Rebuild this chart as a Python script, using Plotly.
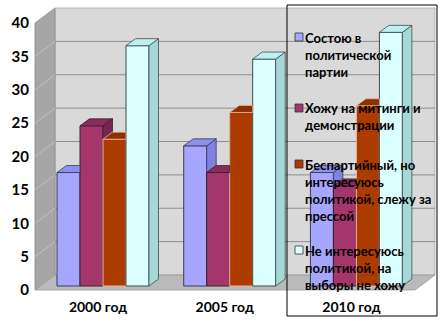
import plotly.graph_objects as go

# ---------------- data ----------------
years = ["2000 год", "2005 год", "2010 год"]
series_names = [
    "Состою в политической партии",
    "Хожу на митинги и демонстрации",
    "Беспартийный, но интересуюсь политикой, слежу за прессой",
    "Не интересуюсь политикой, на выборы не хожу",
]
legend_texts = [
    "Состою в<br>политической<br>партии",
    "Хожу на митинги и<br>демонстрации",
    "Беспартийный, но<br>интересуюсь<br>политикой, слежу за<br>прессой",
    "Не интересуюсь<br>политикой, на<br>выборы не хожу",
]
party_members = [17, 21, 17]
rally_goers = [24, 17, 15]
press_followers = [22, 26, 27]
not_interested = [36, 34, 38]
y_ticks = [0, 5, 10, 15, 20, 25, 30, 35, 40]

series_values = [party_members, rally_goers, press_followers, not_interested]

# ---------------- style ----------------
front_colors = ["#A6A6FF", "#A5366B", "#AC3B00", "#DCFFFF"]
top_colors = ["#8F8FEE", "#8A2C5A", "#8C3000", "#BFF0F0"]
side_colors = ["#8080DE", "#772650", "#7A2A00", "#A6D8D8"]
edge_colors = ["#3A3A5A", "#3A2030", "#E8B497", "#3C4C4C"]

W, H = 445, 323
ML, MR, MT, MB = 30, 5, 5, 32
PL, PR, PT, PB = ML, W - MR, MT, H - MB
UNIT = 6.675          # px per value unit
STEP = 126.7          # px per category
FRONT_CX, FRONT_Y0 = 98.0, 290.0
BAR_CX, BAR_Y0 = 103.0, 286.0
DEPTH_X, DEPTH_Y = 20.0, 15.0
WALL_L = 35.0
WALL_R = 415.0
BARGAP = 0.274
BAR_DX, BAR_DY = 9.5, 7.0
FONT = "Lato"
LEGEND_FONT_SIZE = 13


def xrange_for(c0):
    return [(PL - c0) / STEP, (PR - c0) / STEP]


def yrange_for(y0):
    return [(y0 - PB) / UNIT, (y0 - PT) / UNIT]


def P(px, py):
    return (px - PL) / (PR - PL), (PB - py) / (PB - PT)


def path(points):
    s = ""
    for j, (px, py) in enumerate(points):
        x, y = P(px, py)
        s += ("M" if j == 0 else "L") + f"{x:.5f},{y:.5f} "
    return s + "Z"


fig = go.Figure()

# empty trace so the front-plane (label) axes own a subplot
fig.add_trace(go.Scatter(x=[], y=[], xaxis="x", yaxis="y", mode="markers",
                         hoverinfo="skip", showlegend=False))

# front faces of the bars
for k, vals in enumerate(series_values):
    fig.add_trace(go.Bar(
        x=list(range(len(years))), y=vals, name=series_names[k],
        xaxis="x2", yaxis="y2",
        marker=dict(color=front_colors[k], line=dict(color=edge_colors[k], width=1)),
        showlegend=False,
    ))

# 3D side / top faces computed from the values
n = len(series_values)
bw = (1 - BARGAP) / n
ddx = BAR_DX / STEP
ddy = BAR_DY / UNIT
for k, vals in enumerate(series_values):
    sx, sy, tx, ty = [], [], [], []
    for i, v in enumerate(vals):
        xl = i + (k - (n - 1) / 2) * bw - bw / 2
        xr = xl + bw
        nxt = series_values[k + 1][i] if k < n - 1 else 0
        if v > nxt:
            sx += [xr, xr + ddx, xr + ddx, xr, xr, None]
            sy += [nxt, nxt + ddy, v + ddy, v, nxt, None]
            tx += [xl, xl + ddx, xr + ddx, xr, xl, None]
            ty += [v, v + ddy, v + ddy, v, v, None]
        else:
            tx += [xl, xl + ddx, xr, xr, xl, None]
            ty += [v, v + ddy, v + ddy, v, v, None]
    if sx:
        fig.add_trace(go.Scatter(x=sx, y=sy, xaxis="x2", yaxis="y2", mode="lines",
                                 fill="toself", fillcolor=side_colors[k],
                                 line=dict(color=edge_colors[k], width=0.8),
                                 hoverinfo="skip", showlegend=False))
    fig.add_trace(go.Scatter(x=tx, y=ty, xaxis="x2", yaxis="y2", mode="lines",
                             fill="toself", fillcolor=top_colors[k],
                             line=dict(color=edge_colors[k], width=0.8),
                             hoverinfo="skip", showlegend=False))

# ---------------- walls & grid ----------------
shapes = []
back_top = FRONT_Y0 - DEPTH_Y - UNIT * y_ticks[-1]
back_bot = FRONT_Y0 - DEPTH_Y
front_top = FRONT_Y0 - UNIT * y_ticks[-1]
shapes.append(dict(type="path", xref="paper", yref="paper", layer="below",
                   path=path([(WALL_L + DEPTH_X, back_top), (WALL_R + DEPTH_X, back_top),
                              (WALL_R + DEPTH_X, back_bot), (WALL_L + DEPTH_X, back_bot)]),
                   fillcolor="#D9D9D9", line=dict(color="#A8A8A8", width=0.8)))
shapes.append(dict(type="path", xref="paper", yref="paper", layer="below",
                   path=path([(WALL_L, front_top), (WALL_L + DEPTH_X, back_top),
                              (WALL_L + DEPTH_X, back_bot), (WALL_L, FRONT_Y0)]),
                   fillcolor="#A6A6A6", line=dict(color="#8C8C8C", width=0.8)))
shapes.append(dict(type="path", xref="paper", yref="paper", layer="below",
                   path=path([(WALL_L, FRONT_Y0), (WALL_R, FRONT_Y0),
                              (WALL_R + DEPTH_X, back_bot), (WALL_L + DEPTH_X, back_bot)]),
                   fillcolor="#BABABA", line=dict(color="#9A9A9A", width=0.8)))
for v in y_ticks[1:-1]:
    yb = FRONT_Y0 - DEPTH_Y - UNIT * v
    yf = FRONT_Y0 - UNIT * v
    x0, y0 = P(WALL_L + DEPTH_X, yb)
    x1, y1 = P(WALL_R + DEPTH_X, yb)
    shapes.append(dict(type="line", xref="paper", yref="paper", layer="below",
                       x0=x0, y0=y0, x1=x1, y1=y1, line=dict(color="#8E8E8E", width=1)))
    x0, y0 = P(WALL_L, yf)
    x1, y1 = P(WALL_L + DEPTH_X, yb)
    shapes.append(dict(type="line", xref="paper", yref="paper", layer="below",
                       x0=x0, y0=y0, x1=x1, y1=y1, line=dict(color="#C2C2C2", width=1)))

# ---------------- legend (drawn box) ----------------
LEG_L, LEG_T, LEG_R, LEG_B = 287, 5, 437, 316
x0, y0 = P(LEG_L, LEG_B)
x1, y1 = P(LEG_R, LEG_T)
shapes.append(dict(type="rect", xref="paper", yref="paper", layer="above",
                   x0=x0, y0=y0, x1=x1, y1=y1, fillcolor="rgba(0,0,0,0)",
                   line=dict(color="black", width=1)))
legend_rows = [37, 108, 164, 250]      # centre of each entry's first line (px)
annotations = []
for k, cy in enumerate(legend_rows):
    mx0, my0 = P(295, cy + 4)
    mx1, my1 = P(303, cy - 4)
    shapes.append(dict(type="rect", xref="paper", yref="paper", layer="above",
                       x0=mx0, y0=my0, x1=mx1, y1=my1, fillcolor=front_colors[k],
                       line=dict(color="#333333", width=0.8)))
    ax, ay = P(302.5, cy - 9.5)
    annotations.append(dict(xref="paper", yref="paper", x=ax, y=ay, xanchor="left",
                            yanchor="top", align="left", showarrow=False,
                            text=legend_texts[k],
                            font=dict(family=FONT, size=LEGEND_FONT_SIZE, color="black",
                                      weight="bold")))

fig.update_layout(
    width=W, height=H,
    margin=dict(l=ML, r=MR, t=MT, b=MB, pad=0),
    paper_bgcolor="white", plot_bgcolor="rgba(0,0,0,0)",
    barmode="group", bargap=BARGAP, bargroupgap=0,
    shapes=shapes, annotations=annotations, showlegend=False,
    xaxis=dict(type="linear", range=xrange_for(FRONT_CX), tickmode="array",
               tickvals=list(range(len(years))), ticktext=years,
               showgrid=False, zeroline=False, showline=False, ticks="",
               tickfont=dict(family=FONT, size=14, color="black", weight="bold"),
               ticklabelstandoff=6, automargin=False, fixedrange=True),
    yaxis=dict(type="linear", range=yrange_for(FRONT_Y0), tickmode="array", tickvals=y_ticks,
               showgrid=False, zeroline=False, showline=False, ticks="",
               tickfont=dict(family=FONT, size=15, color="black", weight="bold"),
               automargin=False, fixedrange=True),
    xaxis2=dict(type="linear", range=xrange_for(BAR_CX), overlaying="x", anchor="y2",
                showticklabels=False, showgrid=False, zeroline=False, showline=False,
                ticks="", fixedrange=True),
    yaxis2=dict(type="linear", range=yrange_for(BAR_Y0), overlaying="y", anchor="x2",
                showticklabels=False, showgrid=False, zeroline=False, showline=False,
                ticks="", fixedrange=True),
)

fig.write_html("out.html")
